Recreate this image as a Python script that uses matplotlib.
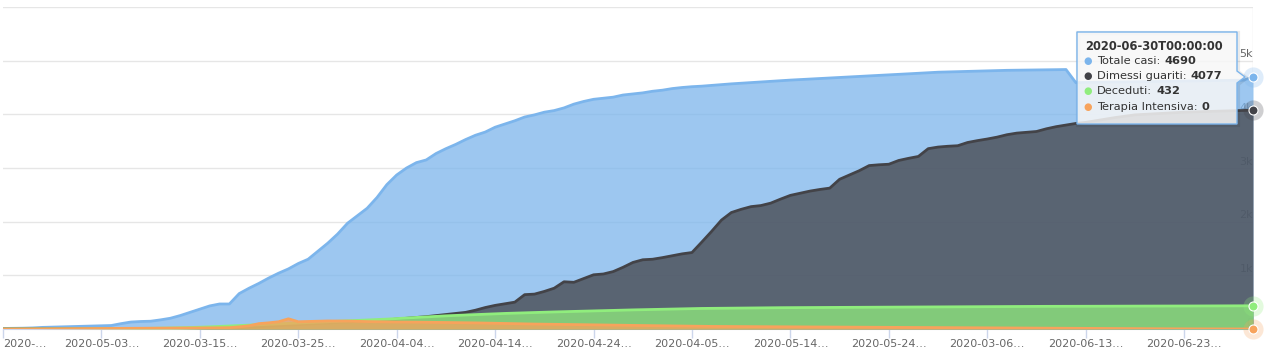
import numpy as np
import matplotlib
matplotlib.use("Agg")
from matplotlib import pyplot as plt
from matplotlib.patches import Polygon

# dati giornalieri 2020-02-24 .. 2020-06-30
totale = [10, 12, 15, 20, 30, 35, 40, 45, 50, 55, 60, 65,
          100, 130, 140, 145, 170, 200, 250, 310, 370, 430, 466, 466,
          660, 760, 850, 950, 1040, 1120, 1220, 1300, 1450, 1600, 1770, 1970,
          2110, 2250, 2450, 2690, 2870, 3000, 3100, 3150, 3270, 3360, 3440, 3530,
          3610, 3670, 3760, 3820, 3880, 3950, 3990, 4040, 4070, 4120, 4190, 4240,
          4280, 4300, 4320, 4360, 4380, 4400, 4430, 4450, 4480, 4500, 4515, 4525,
          4540, 4555, 4568, 4580, 4592, 4603, 4615, 4627, 4638, 4648, 4658, 4668,
          4680, 4690, 4700, 4710, 4718, 4726, 4735, 4745, 4755, 4765, 4775, 4785,
          4790, 4795, 4800, 4805, 4810, 4815, 4820, 4822, 4825, 4828, 4830, 4832, 4835,
          4590,
          4595, 4598, 4600, 4603, 4605, 4608, 4610, 4612, 4615, 4618, 4620, 4622,
          4625, 4628, 4630, 4633, 4636,
          4690]

dimessi = [0] * 18 + [
    2, 5, 8, 10, 15, 20, 25, 30, 40, 50, 60, 70, 80, 90, 100, 110, 120, 130,
    140, 150, 160, 170, 185, 200, 215, 230,
    250, 270, 290, 310, 350, 400, 440, 470, 500, 640, 650, 700, 760, 880, 870,
    940, 1010, 1025, 1070, 1150, 1240, 1290, 1300, 1330, 1365, 1400, 1425,
    1620, 1820, 2030,
    2170, 2230, 2280, 2300, 2345, 2420, 2490, 2530, 2570, 2600,
    2625, 2790, 2870, 2950, 3045, 3060, 3070, 3140, 3180, 3215,
    3360, 3390, 3405, 3415, 3475, 3510, 3540, 3575, 3620, 3650,
    3665, 3680, 3730, 3770, 3800, 3830, 3850, 3880, 3910, 3940,
    3965, 3990, 4000, 4010, 4020, 4030, 4040, 4045, 4050, 4055,
    4062, 4068, 4072, 4077]

deceduti = [0, 0, 0, 0, 0, 1, 1, 2, 2, 3, 4, 5, 6, 8, 10, 12, 15, 18, 22, 27, 33,
            40, 48, 56, 64, 72, 80, 88, 96, 104, 112, 120, 128, 136, 144, 152,
            160, 168, 176, 184, 195, 205, 215, 225, 235, 245, 252, 260, 268, 276, 283,
            290, 296, 302, 308, 313, 318, 323, 328, 333, 338, 343, 348, 352, 356,
            360, 364, 368, 372, 376, 380,
            383, 385, 387, 389, 391, 393, 395,
            396, 397, 398, 399, 400, 401, 402, 403, 404, 405, 406, 407, 408, 409,
            410, 411, 412, 413, 414, 415, 416, 417, 418, 419,
            420, 420, 421, 421, 422, 422, 423, 423, 424, 424, 425, 425, 426, 426,
            427, 427, 428, 428, 429, 429, 430, 430, 431, 431, 432, 432]

terapia = [0, 0, 1, 2, 3, 4, 5, 6, 7, 8, 9, 10, 10, 11, 12, 13, 14, 15, 16, 17, 18,
           20, 22, 25, 40, 60, 100, 115, 135, 190, 135,
           140, 145, 150, 150, 148, 142, 138, 135, 133, 130, 130, 128, 126, 124, 120,
           118, 116, 114, 110, 106, 102, 98, 95, 92, 90, 88, 85, 82, 80, 77,
           75, 72, 70, 67, 65, 62, 60, 57, 55, 52, 50, 48, 47, 46, 45, 44, 43, 42, 41, 40,
           39, 38, 37, 36, 35, 34, 33, 32, 31, 30, 29, 28, 27, 26, 25, 24, 23, 22, 21,
           20, 19, 18, 17, 16, 15, 14, 13, 12, 11, 10, 9, 8, 7, 6,
           5, 5, 4, 4, 3, 3, 2, 2, 1, 1, 1, 0, 0]

nomi = ["Totale casi", "Dimessi guariti", "Deceduti", "Terapia Intensiva"]
colori = ["#7cb5ec", "#434348", "#90ed7d", "#f7a35c"]

xlabels = ["2020-…", "2020-05-03…", "2020-03-15…", "2020-03-25…", "2020-04-04…",
           "2020-04-14…", "2020-04-24…", "2020-04-05…", "2020-05-14…", "2020-05-24…",
           "2020-03-06…", "2020-06-13…", "2020-06-23…"]
ylabels = ["0", "1k", "2k", "3k", "4k", "5k"]
tooltip_title = "2020-06-30T00:00:00"

serie = [totale, dimessi, deceduti, terapia]
x = np.arange(len(totale))
last = len(totale) - 1

W, H = 1265, 355
fig = plt.figure(figsize=(W / 100, H / 100), dpi=100)
ax = fig.add_axes([3 / W, 26 / H, 1250 / W, 322 / H])

ax.set_xlim(0, last)
ax.set_ylim(0, 6000)
ax.set_yticks(range(0, 7000, 1000))
ax.yaxis.grid(True, color="#e6e6e6", lw=1, zorder=0)
ax.set_axisbelow(True)
ax.tick_params(axis="y", length=0, labelleft=False)
for s in ["top", "left", "right"]:
    ax.spines[s].set_visible(False)
ax.spines["bottom"].set_color("#ccd6eb")
ax.axvline(last, color="#e6e6e6", lw=1, zorder=0)

ax.set_xticks(range(0, len(totale), 10))
ax.set_xticklabels(xlabels, fontsize=8, color="#666666")
ax.tick_params(axis="x", length=6.5, width=1, color="#ccd6eb", pad=1)
ax.get_xticklabels()[0].set_horizontalalignment("left")

for i, lbl in enumerate(ylabels):
    ax.annotate(lbl, (last, i * 1000), xytext=(0, 4.5), textcoords="offset points",
                ha="right", va="center", fontsize=8, color="#666666", zorder=1)

for k, (vals, c) in enumerate(zip(serie, colori)):
    ax.fill_between(x, 0, vals, color=c, alpha=0.75, lw=0, zorder=2 + k)
    ax.plot(x, vals, color=c, lw=2, zorder=2 + k + 0.5, solid_joinstyle="round")

for vals, c in zip(serie, colori):
    ax.plot(last, vals[-1], "o", ms=14.5, color=c, alpha=0.25, mec="none",
            clip_on=False, zorder=10)
    ax.plot(last, vals[-1], "o", ms=6.5, color=c, mec="white", mew=0.8,
            clip_on=False, zorder=11)

# tooltip in pixel
ov = fig.add_axes([0, 0, 1, 1], zorder=5)
ov.set_xlim(0, W)
ov.set_ylim(H, 0)
ov.axis("off")
ov.patch.set_alpha(0)

pts = [(1077, 32), (1237, 32), (1237, 71), (1245, 77), (1237, 83), (1237, 124), (1077, 124)]
shadow = Polygon([(px + 1, py + 1) for px, py in pts], closed=True, fc="none",
                 ec=(0, 0, 0, 0.08), lw=3)
ov.add_patch(shadow)
ov.add_patch(Polygon(pts, closed=True, fc=(247 / 255, 247 / 255, 247 / 255, 0.85),
                     ec="#7cb5ec", lw=1))

ov.text(1085, 46.5, tooltip_title, fontsize=8.3, fontweight="bold", color="#333333",
        ha="left", va="center")
for j, (nome, vals, c) in enumerate(zip(nomi, serie, colori)):
    yy = 61 + j * 15.2
    ov.text(1088, yy, "●", fontsize=7, color=c, ha="center", va="center")
    t = ov.text(1097, yy, nome + ":", fontsize=8.2, color="#333333", ha="left", va="center")
    ov.annotate(str(vals[-1]), xy=(1, 0.5), xycoords=t, xytext=(3, 0),
                textcoords="offset points", fontsize=8.2, fontweight="bold",
                color="#333333", ha="left", va="center")

fig.savefig("out.png", dpi=100)
